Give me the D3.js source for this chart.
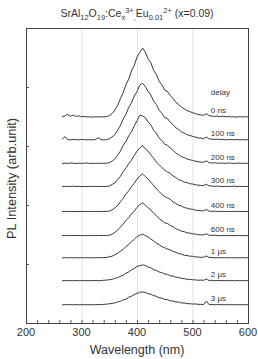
<!DOCTYPE html>
<html>
<head>
<meta charset="utf-8">
<script src="https://cdn.jsdelivr.net/npm/d3@7"></script>
<style>
  body { margin: 0; background: #fff; }
  svg { display: block; font-family: "Liberation Sans", Arial, sans-serif; }
</style>
</head>
<body>
<svg width="258" height="359"></svg>
<script>
// wavelength samples (nm), every 5 nm from 265 to 600
var wavelengths = d3.range(265, 601, 5);

// delay labels, top curve first
var delays = ['0 ns', '100 ns', '200 ns', '300 ns', '400 ns', '600 ns', '1 \u03bcs', '2 \u03bcs', '3 \u03bcs'];

// vertical offset of each curve (arb. units)
var offsets = [8.72, 7.75, 6.75, 5.77, 4.71, 3.69, 2.75, 1.78, 0.76];

// PL intensity, one array per delay
var pl0ns = [0.02,0.05,0.12,0.04,0.09,0.03,0.06,0.02,0.03,0.01,0.02,0.00,0.02,0.01,0.02,0.01,0.03,
  0.06,0.15,0.30,0.50,0.78,1.03,1.37,1.61,1.96,2.19,
  2.55,2.74,2.93,2.76,2.47,2.31,1.98,1.81,1.52,1.37,
  1.15,1.09,0.91,0.80,0.63,0.54,0.43,0.36,0.28,0.24,
  0.19,0.16,0.11,0.10,0.08,0.15,0.06,0.05,0.03,0.05,
  0.02,0.04,0.02,0.03,0.01,0.02,0.00,0.03,0.01,0.02,
  0.01];
var pl100ns = [0.03,0.15,0.02,0.01,0.03,0.02,0.01,0.03,0.02,0.01,0.02,0.01,0.03,0.10,0.02,0.01,0.02,
  0.05,0.13,0.23,0.42,0.61,0.89,1.09,1.38,1.58,1.86,
  2.06,2.33,2.41,2.27,2.06,1.91,1.65,1.50,1.26,1.13,
  0.95,0.91,0.75,0.66,0.52,0.45,0.35,0.30,0.23,0.20,
  0.16,0.13,0.09,0.09,0.06,0.13,0.05,0.04,0.03,0.04,
  0.02,0.03,0.01,0.03,0.02,0.01,0.03,0.01,0.02,0.01,
  0.02];
var pl200ns = [0.01,0.02,0.01,0.03,0.02,0.01,0.02,0.01,0.02,0.03,0.01,0.02,0.01,0.02,0.01,0.02,0.02,
  0.04,0.11,0.20,0.36,0.53,0.77,0.94,1.18,1.35,1.60,
  1.81,2.06,2.02,1.95,1.77,1.64,1.42,1.28,1.08,0.98,
  0.82,0.78,0.66,0.57,0.45,0.38,0.30,0.26,0.20,0.17,
  0.14,0.11,0.08,0.07,0.06,0.12,0.04,0.03,0.04,0.02,
  0.03,0.02,0.01,0.03,0.02,0.01,0.02,0.03,0.01,0.02,
  0.01];
var pl300ns = [0.02,0.01,0.02,0.01,0.03,0.01,0.02,0.01,0.02,0.01,0.02,0.01,0.02,0.01,0.02,0.01,0.02,
  0.03,0.10,0.16,0.31,0.44,0.64,0.79,0.98,1.13,1.33,
  1.51,1.64,1.75,1.61,1.51,1.35,1.21,1.05,0.93,0.81,
  0.71,0.63,0.57,0.46,0.39,0.30,0.27,0.20,0.18,0.13,
  0.12,0.09,0.07,0.06,0.05,0.11,0.04,0.03,0.02,0.03,
  0.02,0.01,0.02,0.01,0.02,0.03,0.01,0.02,0.01,0.02,
  0.01];
var pl400ns = [0.01,0.02,0.01,0.02,0.01,0.02,0.01,0.02,0.01,0.02,0.01,0.02,0.01,0.02,0.01,0.02,0.02,
  0.03,0.08,0.17,0.26,0.43,0.57,0.75,0.89,1.07,1.21,
  1.39,1.52,1.61,1.49,1.39,1.25,1.12,0.97,0.86,0.73,
  0.65,0.59,0.53,0.42,0.36,0.28,0.25,0.18,0.16,0.12,
  0.11,0.07,0.06,0.05,0.04,0.10,0.03,0.02,0.03,0.02,
  0.01,0.02,0.01,0.02,0.01,0.02,0.01,0.02,0.01,0.02,
  0.01];
var pl600ns = [0.02,0.01,0.02,0.01,0.02,0.01,0.02,0.01,0.02,0.01,0.02,0.01,0.02,0.01,0.02,0.02,0.02,
  0.03,0.07,0.15,0.24,0.37,0.50,0.65,0.77,0.93,1.05,
  1.21,1.32,1.40,1.31,1.19,1.10,0.96,0.86,0.73,0.65,
  0.55,0.53,0.44,0.39,0.30,0.26,0.20,0.18,0.13,0.12,
  0.09,0.08,0.05,0.05,0.04,0.09,0.03,0.02,0.03,0.02,
  0.01,0.02,0.01,0.02,0.01,0.02,0.01,0.02,0.01,0.02,
  0.01];
var pl1us = [0.01,0.02,0.01,0.02,0.01,0.02,0.01,0.02,0.01,0.02,0.01,0.02,0.01,0.02,0.02,0.02,0.03,
  0.05,0.08,0.14,0.20,0.29,0.37,0.49,0.57,0.70,0.79,
  0.91,0.97,1.02,0.95,0.90,0.80,0.73,0.63,0.57,0.48,
  0.44,0.38,0.35,0.28,0.25,0.19,0.17,0.12,0.11,0.08,
  0.08,0.05,0.05,0.03,0.04,0.09,0.02,0.03,0.01,0.02,
  0.02,0.01,0.02,0.01,0.02,0.01,0.02,0.01,0.02,0.01,
  0.02];
var pl2us = [0.01,0.02,0.01,0.02,0.01,0.02,0.01,0.02,0.01,0.02,0.01,0.02,0.02,0.01,0.02,0.03,0.04,
  0.05,0.07,0.11,0.14,0.20,0.24,0.33,0.38,0.47,0.53,
  0.62,0.65,0.68,0.66,0.59,0.56,0.48,0.45,0.38,0.35,
  0.29,0.28,0.22,0.21,0.16,0.15,0.11,0.10,0.07,0.07,
  0.05,0.05,0.03,0.04,0.03,0.08,0.02,0.03,0.01,0.02,
  0.02,0.01,0.02,0.01,0.02,0.01,0.02,0.01,0.02,0.01,
  0.02];
var pl3us = [0.01,0.02,0.01,0.02,0.01,0.02,0.01,0.02,0.01,0.02,0.01,0.02,0.01,0.02,0.02,0.03,0.04,
  0.05,0.07,0.09,0.13,0.16,0.22,0.25,0.33,0.37,0.45,
  0.49,0.55,0.55,0.54,0.48,0.46,0.40,0.37,0.31,0.29,
  0.24,0.23,0.18,0.17,0.13,0.13,0.09,0.09,0.06,0.06,
  0.04,0.05,0.03,0.03,0.02,0.17,0.02,0.03,0.01,0.02,
  0.02,0.01,0.02,0.01,0.02,0.01,0.02,0.01,0.02,0.01,
  0.02];

var spectra = [pl0ns, pl100ns, pl200ns, pl300ns, pl400ns, pl600ns, pl1us, pl2us, pl3us];

var xTicks = [200, 300, 400, 500, 600];
var yTicks = [2.5, 5, 7.5, 10];

var svg = d3.select('svg');
var margin = {top: 28, right: 10, bottom: 36, left: 26};
var width = 258 - margin.left - margin.right;
var height = 359 - margin.top - margin.bottom;

var x = d3.scaleLinear().domain([200, 600]).range([0, width]);
var y = d3.scaleLinear().domain([0, 12.5]).range([height, 0]);

var g = svg.append('g').attr('transform', 'translate(' + margin.left + ',' + margin.top + ')');

// light vertical grid lines
g.selectAll('.grid')
  .data([300, 400, 500])
  .enter().append('line')
  .attr('x1', function(d) { return x(d) + 0.5; })
  .attr('x2', function(d) { return x(d) + 0.5; })
  .attr('y1', 0)
  .attr('y2', height)
  .attr('stroke', '#e2e2e2')
  .attr('stroke-width', 1);

// bottom axis with inward ticks
var xAxis = d3.axisBottom(x).tickValues(d3.range(200, 601, 20))
  .tickSize(-3).tickFormat('');
g.append('g').attr('transform', 'translate(0,' + height + ')').call(xAxis)
  .call(function(s) { s.select('.domain').remove(); })
  .selectAll('line').attr('stroke', '#555');

g.selectAll('.xlab')
  .data(xTicks)
  .enter().append('text')
  .attr('x', function(d) { return x(d); })
  .attr('y', height + 13)
  .attr('text-anchor', 'middle')
  .attr('font-size', 11)
  .attr('fill', '#333')
  .text(function(d) { return d; });

// left axis ticks, no labels
var yAxis = d3.axisLeft(y).tickValues(yTicks).tickSize(-3).tickFormat('');
g.append('g').call(yAxis)
  .call(function(s) { s.select('.domain').remove(); })
  .selectAll('line').attr('stroke', '#555');

// spectra
var line = d3.line()
  .x(function(d) { return x(d[0]); })
  .y(function(d) { return y(d[1]); });

g.selectAll('.spec')
  .data(spectra)
  .enter().append('path')
  .attr('fill', 'none')
  .attr('stroke', '#222')
  .attr('stroke-width', 0.9)
  .attr('stroke-linejoin', 'round')
  .attr('d', function(vals, i) {
    return line(vals.map(function(v, j) { return [wavelengths[j], v + offsets[i]]; }));
  });

// delay labels
g.append('text')
  .attr('x', x(533))
  .attr('y', y(offsets[0] + 0.95))
  .attr('font-size', 8)
  .attr('fill', '#333')
  .text('delay');

g.selectAll('.dlab')
  .data(delays)
  .enter().append('text')
  .attr('x', x(533))
  .attr('y', function(d, i) { return y(offsets[i]) - 4; })
  .attr('font-size', 8)
  .attr('fill', '#333')
  .text(function(d) { return d; });

// frame
g.append('rect')
  .attr('x', 0.5).attr('y', 0.5)
  .attr('width', width).attr('height', height)
  .attr('fill', 'none')
  .attr('stroke', '#444')
  .attr('stroke-width', 1);

// axis titles
svg.append('text')
  .attr('x', margin.left + width / 2)
  .attr('y', 354)
  .attr('text-anchor', 'middle')
  .attr('font-size', 12.5)
  .attr('fill', '#333')
  .text('Wavelength (nm)');

svg.append('text')
  .attr('transform', 'translate(16,' + (margin.top + height / 2 + 3) + ') rotate(-90)')
  .attr('text-anchor', 'middle')
  .attr('font-size', 12.8)
  .attr('fill', '#333')
  .text('PL Intensity (arb.unit)');

// chart title with sub/superscripts
var title = svg.append('text')
  .attr('x', margin.left + width / 2)
  .attr('y', 17)
  .attr('text-anchor', 'middle')
  .attr('font-size', 10.5)
  .attr('fill', '#333');
var parts = [
  ['SrAl', 0], ['12', 1], ['O', 0], ['19', 1], [':Ce', 0], ['x', 1], ['3+', -1], [',', 1],
  ['Eu', 0], ['0.01', 1], ['2+', -1], [' (x=0.09)', 0]
];
var shift = 0;
parts.forEach(function(p) {
  var dy = p[1] === 1 ? 3 : p[1] === -1 ? -4 : 0;
  title.append('tspan')
    .attr('dy', dy - shift)
    .attr('font-size', p[1] === 0 ? 10.5 : 7.5)
    .text(p[0]);
  shift = dy;
});
</script>
</body>
</html>
